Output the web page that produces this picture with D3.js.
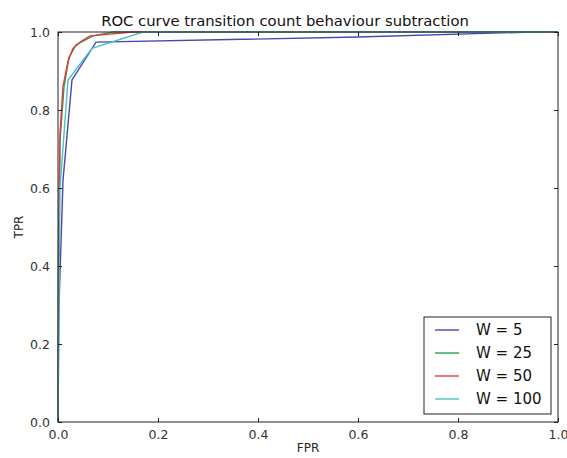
<!DOCTYPE html>
<html>
<head>
<meta charset="utf-8">
<script src="https://cdn.jsdelivr.net/npm/d3@7"></script>
<style>
  body { margin: 0; background: #fff; }
  svg { display: block; font-family: 'DejaVu Sans', sans-serif; }
</style>
</head>
<body>
<script>
// ROC curves, one per window size
var seriesNames = ['W = 5', 'W = 25', 'W = 50', 'W = 100'];
var seriesColors = ['#4646b4', '#2ca04c', '#e8383c', '#46c4c4'];

var fprW5   = [0, 0.002, 0.01, 0.028, 0.076, 0.6, 0.95, 1];
var tprW5   = [0, 0.30, 0.62, 0.877, 0.974, 0.987, 1, 1];
var fprW25  = [0, 0.001, 0.004, 0.012, 0.022, 0.036, 0.07, 0.11, 1];
var tprW25  = [0, 0.40, 0.72, 0.86, 0.935, 0.967, 0.99, 1, 1];
var fprW50  = [0, 0.001, 0.004, 0.01, 0.02, 0.03, 0.045, 0.064, 0.15, 1];
var tprW50  = [0, 0.45, 0.74, 0.86, 0.925, 0.958, 0.975, 0.99, 1, 1];
var fprW100 = [0, 0.001, 0.004, 0.02, 0.068, 0.17, 1];
var tprW100 = [0, 0.20, 0.60, 0.877, 0.958, 1, 1];

var xTicks = [0, 0.2, 0.4, 0.6, 0.8, 1.0];
var yTicks = [0, 0.2, 0.4, 0.6, 0.8, 1.0];

var series = [
    { name: seriesNames[0], fpr: fprW5, tpr: tprW5 },
    { name: seriesNames[1], fpr: fprW25, tpr: tprW25 },
    { name: seriesNames[2], fpr: fprW50, tpr: tprW50 },
    { name: seriesNames[3], fpr: fprW100, tpr: tprW100 }
];

var width = 567,
    height = 458,
    margin = { top: 32, right: 9, bottom: 36, left: 58 },
    innerW = width - margin.left - margin.right,
    innerH = height - margin.top - margin.bottom,
    frame = '#222';

var svg = d3.select('body')
    .append('svg')
    .attr('width', width)
    .attr('height', height);

var x = d3.scaleLinear().domain([0, 1]).range([0, innerW]);
var y = d3.scaleLinear().domain([0, 1]).range([innerH, 0]);

var g = svg.append('g')
    .attr('transform', 'translate(' + margin.left + ',' + margin.top + ')');

// curves
var line = d3.line()
    .x(function(d) { return x(d[0]); })
    .y(function(d) { return y(d[1]); });

g.selectAll('path.roc')
    .data(series)
    .enter()
    .append('path')
    .attr('class', 'roc')
    .attr('fill', 'none')
    .attr('stroke', function(d, i) { return seriesColors[i]; })
    .attr('stroke-width', 1.4)
    .attr('d', function(d) { return line(d3.zip(d.fpr, d.tpr)); });

// axes, matplotlib classic style: ticks inward on all sides
var tickFmt = d3.format('.1f');

var xAxis = g.append('g')
    .attr('transform', 'translate(0,' + innerH + ')')
    .call(d3.axisBottom(x).tickValues(xTicks).tickFormat(tickFmt).tickSizeInner(-4).tickSizeOuter(0).tickPadding(8));

var xTop = g.append('g')
    .call(d3.axisTop(x).tickValues(xTicks).tickFormat('').tickSizeInner(-4).tickSizeOuter(0));

var yAxis = g.append('g')
    .call(d3.axisLeft(y).tickValues(yTicks).tickFormat(tickFmt).tickSizeInner(-4).tickSizeOuter(0).tickPadding(8));

var yRight = g.append('g')
    .attr('transform', 'translate(' + innerW + ',0)')
    .call(d3.axisRight(y).tickValues(yTicks).tickFormat('').tickSizeInner(-4).tickSizeOuter(0));

[xAxis, xTop, yAxis, yRight].forEach(function(a) {
    a.select('.domain').remove();
    a.selectAll('line').attr('stroke', frame);
    a.selectAll('text')
        .attr('fill', '#333')
        .attr('font-size', 12.5)
        .attr('font-family', "'DejaVu Sans', sans-serif");
});

g.append('rect')
    .attr('width', innerW)
    .attr('height', innerH)
    .attr('fill', 'none')
    .attr('stroke', frame)
    .attr('stroke-width', 1);

// labels
svg.append('text')
    .attr('x', 285)
    .attr('y', 26)
    .attr('text-anchor', 'middle')
    .attr('font-size', 14.8)
    .attr('fill', '#111')
    .text('ROC curve transition count behaviour subtraction');

svg.append('text')
    .attr('x', margin.left + innerW / 2)
    .attr('y', 452)
    .attr('text-anchor', 'middle')
    .attr('font-size', 12)
    .attr('fill', '#222')
    .text('FPR');

svg.append('text')
    .attr('transform', 'translate(23,' + (margin.top + innerH / 2) + ') rotate(-90)')
    .attr('text-anchor', 'middle')
    .attr('font-size', 12)
    .attr('fill', '#222')
    .text('TPR');

// legend
var lg = svg.append('g').attr('transform', 'translate(424,317)');

lg.append('rect')
    .attr('width', 127)
    .attr('height', 97)
    .attr('fill', '#fff')
    .attr('stroke', frame);

var keys = lg.selectAll('g.key')
    .data(series)
    .enter()
    .append('g')
    .attr('class', 'key')
    .attr('transform', function(d, i) { return 'translate(0,' + (13 + i * 23) + ')'; });

keys.append('line')
    .attr('x1', 11)
    .attr('x2', 35)
    .attr('stroke', function(d, i) { return seriesColors[i]; })
    .attr('stroke-width', 1.4);

keys.append('text')
    .attr('x', 52)
    .attr('dy', '0.35em')
    .attr('font-size', 15)
    .attr('fill', '#111')
    .text(function(d) { return d.name; });
</script>
</body>
</html>
